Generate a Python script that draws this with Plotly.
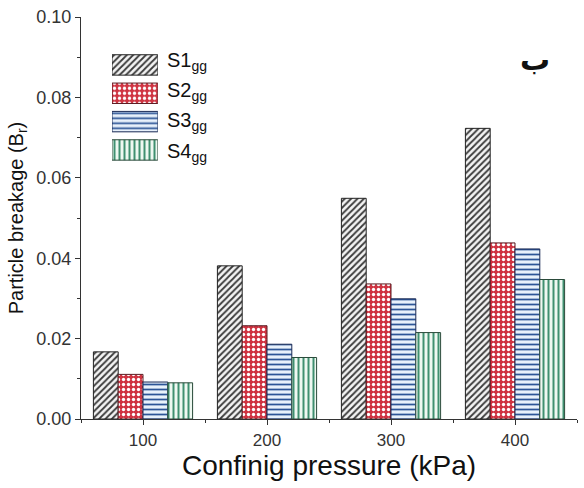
import plotly.graph_objects as go

# Confining pressure levels (kPa)
pressures = [100, 200, 300, 400]

# Particle breakage B_r for each gradation
series_names = ["S1", "S2", "S3", "S4"]
s1_values = [0.0167, 0.0381, 0.0549, 0.0723]
s2_values = [0.0111, 0.0232, 0.0336, 0.0438]
s3_values = [0.0092, 0.0186, 0.0299, 0.0423]
s4_values = [0.0090, 0.0153, 0.0215, 0.0347]

y_tick_vals = [0.00, 0.02, 0.04, 0.06, 0.08, 0.10]
y_tick_text = ["0.00", "0.02", "0.04", "0.06", "0.08", "0.10"]

series_values = [s1_values, s2_values, s3_values, s4_values]

# Fill patterns for each series
styles = [
    dict(shape="/", fg="#3a3a3a", bg="#f4f4f4", size=4.5, solidity=0.4, line="#222222"),
    dict(shape=".", fg="#ffffff", bg="#cf3442", size=5, solidity=0.35, line="#5a1a20"),
    dict(shape="-", fg="#2d5597", bg="#e8f1fb", size=5, solidity=0.35, line="#1a2a55"),
    dict(shape="|", fg="#3f9070", bg="#eef8f1", size=5, solidity=0.40, line="#2a4a3a"),
]


def bar_marker(st):
    return dict(
        color=st["bg"],
        line=dict(color=st["line"], width=1),
        pattern=dict(shape=st["shape"], fgcolor=st["fg"], bgcolor=st["bg"],
                     size=st["size"], solidity=st["solidity"], fillmode="replace"),
    )


fig = go.Figure()

for name, vals, st in zip(series_names, series_values, styles):
    fig.add_trace(go.Bar(x=pressures, y=vals, name=name, showlegend=False,
                         marker=bar_marker(st)))

# Key swatches: patterned bars on a small dedicated pair of axes
for i, (name, st) in enumerate(zip(series_names, styles)):
    fig.add_trace(go.Bar(
        x=[1], y=[i], orientation="h", width=0.72, offsetgroup="key",
        xaxis="x3", yaxis="y3", showlegend=False, hoverinfo="skip",
        marker=bar_marker(st),
    ))

axis_color = "#333333"
base_font = "Liberation Sans, Arial, sans-serif"

fig.update_layout(
    width=584, height=488,
    margin=dict(l=81, r=7, t=15, b=69),
    paper_bgcolor="white", plot_bgcolor="white",
    barmode="group", bargap=0.2, bargroupgap=0,
    font=dict(family=base_font, color="#111111"),
    xaxis=dict(
        range=[50, 450], tickvals=pressures, ticktext=[str(p) for p in pressures],
        showgrid=False, zeroline=False, showline=True, linecolor=axis_color, linewidth=1.3,
        ticks="outside", ticklen=5, tickwidth=1.2, tickcolor=axis_color,
        minor=dict(dtick=50, tick0=50, ticks="outside", ticklen=3, tickcolor=axis_color, showgrid=False),
        tickfont=dict(family=base_font, size=17, color="#333333"),
        title=dict(text="Confinig pressure (kPa)", standoff=4,
                   font=dict(family=base_font, size=28, color="#111111")),
    ),
    yaxis=dict(
        range=[0, 0.10], tickvals=y_tick_vals, ticktext=y_tick_text,
        showgrid=False, zeroline=False, showline=True, linecolor=axis_color, linewidth=1.3,
        ticks="outside", ticklen=5, tickwidth=1.2, tickcolor=axis_color,
        minor=dict(dtick=0.01, tick0=0, ticks="outside", ticklen=3, tickcolor=axis_color, showgrid=False),
        tickfont=dict(family=base_font, size=18, color="#333333"),
        title=dict(text="Particle breakage (B<sub>r</sub>)", standoff=7,
                   font=dict(family=base_font, size=20, color="#111111")),
    ),
    xaxis2=dict(
        range=[50, 450], overlaying="x", side="top", anchor="y",
        tickvals=pressures, showticklabels=False, showgrid=False, zeroline=False,
        showline=True, linecolor=axis_color, linewidth=1.3,
        ticks="inside", ticklen=5, tickwidth=1.2, tickcolor=axis_color,
        minor=dict(dtick=50, tick0=50, ticks="inside", ticklen=3, tickcolor=axis_color),
    ),
    yaxis2=dict(
        range=[0, 0.10], overlaying="y", side="right", anchor="x",
        tickvals=y_tick_vals, showticklabels=False, showgrid=False, zeroline=False,
        showline=True, linecolor=axis_color, linewidth=1.3,
        ticks="inside", ticklen=5, tickwidth=1.2, tickcolor=axis_color,
        minor=dict(dtick=0.01, tick0=0, ticks="inside", ticklen=3, tickcolor=axis_color),
    ),
    xaxis3=dict(domain=[0.0625, 0.155], anchor="y3", range=[0, 1], visible=False),
    yaxis3=dict(domain=[0.634, 0.916], anchor="x3", range=[3.5, -0.5], visible=False),
)

# Key labels with subscripts
key_y_px = [60, 90, 120, 151]
for name, ypx in zip(series_names, key_y_px):
    fig.add_annotation(
        xref="paper", yref="paper",
        x=(165 - 81) / 496, y=(419 - ypx) / 404,
        xanchor="left", yanchor="middle", showarrow=False,
        text=f"{name}<sub>gg</sub>",
        font=dict(size=20, color="#111111", family=base_font),
    )

# Panel letter (Arabic beh, isolated form)
fig.add_annotation(
    xref="paper", yref="paper",
    x=(535 - 81) / 496, y=(419 - 58) / 404,
    xanchor="center", yanchor="middle", showarrow=False,
    text="<b>\uFE8F</b>",
    font=dict(size=30, color="#111111", family="DejaVu Sans, sans-serif"),
)

fig.write_html("out.html")
